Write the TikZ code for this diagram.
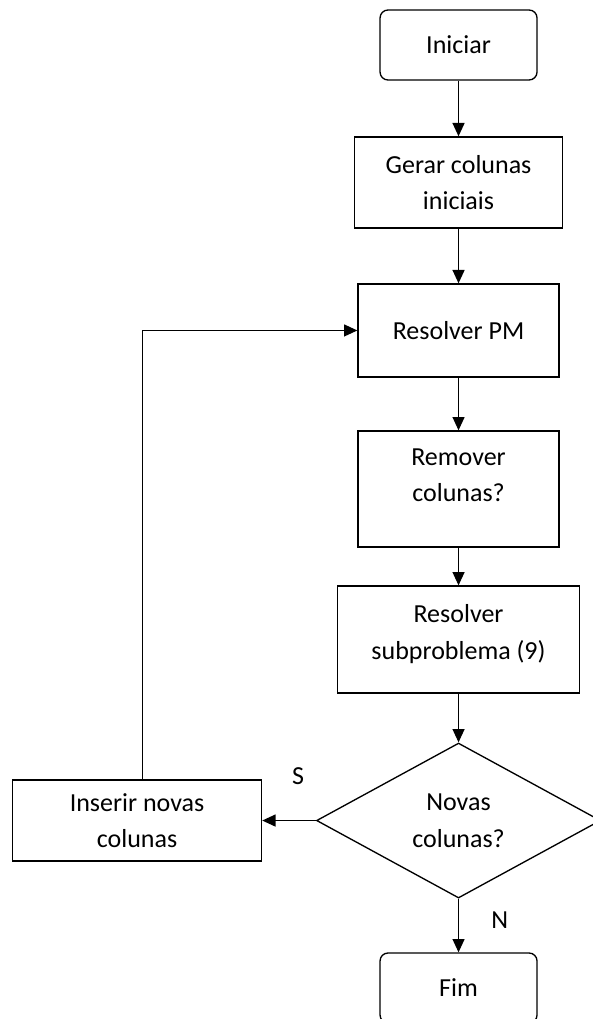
\documentclass[tikz,border=0pt]{standalone}
\usepackage{fontspec}
\setmainfont{Carlito}
\usetikzlibrary{shapes.geometric,arrows.meta}

\tikzstyle{arrow} = [line width=1pt,->,>={Triangle[length=10pt,width=9pt]}]
\tikzstyle{block} = [
        rectangle,
        minimum width=150.75pt,
        minimum height=69.75pt,
        text centered,
        align=center,
        draw=black,
        line width=1pt,
        font=\fontsize{19.5pt}{27.5pt}\selectfont
    ]
\tikzstyle{terminal} = [
        block,
        rounded corners=6pt,
        minimum width=117.75pt,
        minimum height=52.5pt
    ]
\tikzstyle{decision} = [
        diamond,
        aspect=1.83,
        minimum width=213pt,
        minimum height=116.25pt,
        inner sep=0pt,
        align=center,
        draw=black,
        line width=1pt,
        font=\fontsize{19.5pt}{27.5pt}\selectfont
    ]

\begin{document}
\begin{tikzpicture}
        \useasboundingbox (-343.9pt,33.75pt) rectangle (100.1pt,-730.5pt);

        \node (iniciar) [terminal] {Iniciar};

        \node (gerar) [%
            block,%
            minimum width=156pt,%
            minimum height=68.25pt,%
            node distance=103.1pt,%
            below of=iniciar
            ] {Gerar colunas\\iniciais};

        \node (resolverpm) [%
            block,%
            node distance=111pt,%
            below of=gerar
            ] {Resolver PM};

        \node (remover) [%
            block,%
            minimum height=87pt,%
            text depth=21pt,%
            node distance=118.9pt,%
            below of=resolverpm
            ] {Remover\\colunas?};

        \node (subproblema) [%
            block,%
            minimum width=181.5pt,%
            minimum height=80.25pt,%
            text depth=11pt,%
            node distance=112.9pt,%
            below of=remover
            ] {Resolver\\subproblema (9)};

        \node (novas) [%
            decision,%
            node distance=135.75pt,%
            below of=subproblema
            ] {Novas\\colunas?};

        \node (inserir) [%
            block,%
            minimum width=186.75pt,%
            minimum height=60.75pt,%
            node distance=241.1pt,%
            left of=novas
            ] {Inserir novas\\colunas};

        \node (fim) [%
            terminal,%
            node distance=125.6pt,%
            below of=novas
            ] {Fim};

        \draw [arrow] (iniciar) -- (gerar);
        \draw [arrow] (gerar) -- (resolverpm);
        \draw [arrow] (resolverpm) -- (remover);
        \draw [arrow] (remover) -- (subproblema);
        \draw [arrow] (subproblema) -- (novas);
        \draw [arrow] (novas) -- node (sim) [pos=0.33, yshift=33pt, font=\fontsize{19.5pt}{21pt}\selectfont] {S} (inserir);
        \draw [arrow] (novas) -- node (nao) [pos=0.4, xshift=31pt, font=\fontsize{19.5pt}{21pt}\selectfont] {N} (fim);
        \draw [arrow] ([xshift=4pt]inserir.north) |- (resolverpm.west);

    \end{tikzpicture}
\end{document}
